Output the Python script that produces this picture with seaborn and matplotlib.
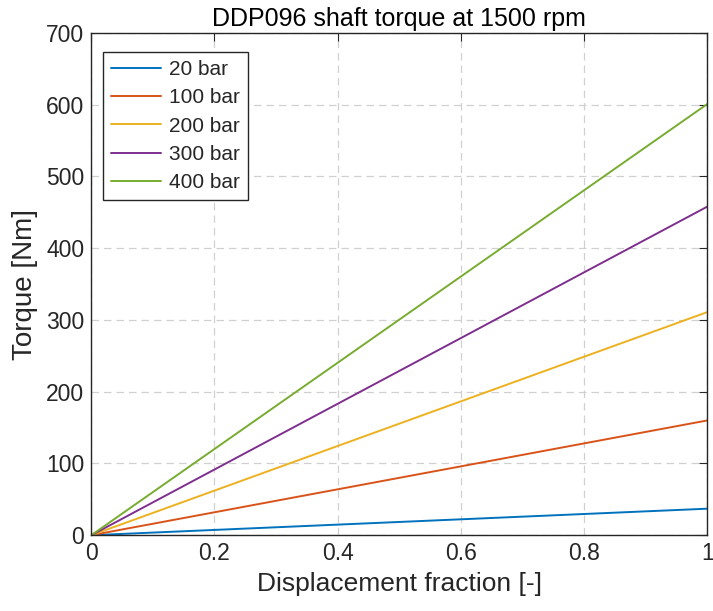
import numpy as np
import pandas as pd
import matplotlib
matplotlib.use('Agg')
import matplotlib.pyplot as plt
import seaborn as sns

# data
displacement = [0.0, 1.0]
pressures = ['20 bar', '100 bar', '200 bar', '300 bar', '400 bar']
torque_20 = [0.0, 37.0]
torque_100 = [0.0, 160.0]
torque_200 = [0.0, 311.0]
torque_300 = [0.0, 458.0]
torque_400 = [0.0, 601.0]
x_ticks = [0, 0.2, 0.4, 0.6, 0.8, 1]
x_tick_labels = ['0', '0.2', '0.4', '0.6', '0.8', '1']
y_ticks = [0, 100, 200, 300, 400, 500, 600, 700]

colors = ['#0072BD', '#D95319', '#EDB120', '#7E2F8E', '#77AC30']

sns.set_style('white')
plt.rcParams['font.family'] = ['Liberation Sans', 'DejaVu Sans']

rows = []
for name, vals in zip(pressures, [torque_20, torque_100, torque_200, torque_300, torque_400]):
    for x, y in zip(displacement, vals):
        rows.append({'Displacement': x, 'Torque': y, 'Pressure': name})
df = pd.DataFrame(rows)

fig = plt.figure(figsize=(7.13, 6.11), dpi=100)
ax = fig.add_axes([0.128, 0.124, 0.864, 0.822])

sns.lineplot(data=df, x='Displacement', y='Torque', hue='Pressure',
             hue_order=pressures, palette=colors, linewidth=1.4, ax=ax)

ax.set_xlim(0, 1)
ax.set_ylim(0, 700)
ax.set_xticks(x_ticks)
ax.set_xticklabels(x_tick_labels)
ax.set_yticks(y_ticks)
ax.grid(True, linestyle=(0, (6, 4)), color='#d0d0d0', linewidth=0.9)
ax.tick_params(direction='in', top=True, right=True, length=6, width=0.8,
               labelsize=16.5, colors='#262626', pad=5)
for s in ax.spines.values():
    s.set_color('#262626')
    s.set_linewidth(1.0)

ax.set_xlabel('Displacement fraction [-]', fontsize=19, color='#262626', labelpad=5)
ax.set_ylabel('Torque [Nm]', fontsize=20, color='#262626', labelpad=6)
ax.set_title('DDP096 shaft torque at 1500 rpm', fontsize=18, color='#000000', pad=5)

leg = ax.legend(loc='upper left', fontsize=15, frameon=True, fancybox=False,
                edgecolor='#262626', framealpha=1, handlelength=2.4,
                borderpad=0.38, labelspacing=0.45, handletextpad=0.4,
                borderaxespad=0, bbox_to_anchor=(0.019, 0.962))
leg.get_frame().set_linewidth(1.0)

fig.savefig('out.png', dpi=100)
